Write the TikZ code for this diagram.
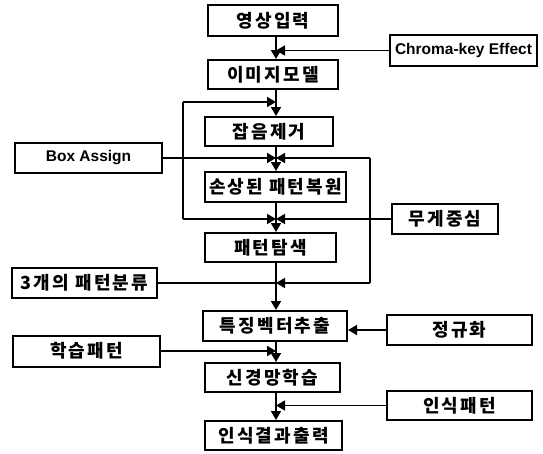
\documentclass[tikz,border=0pt]{standalone}
\usepackage{fontspec}
\newfontfamily\krfont{Noto Sans CJK KR}[LetterSpace=12]
\newfontfamily\latfont{Liberation Sans}
\usetikzlibrary{arrows.meta}
\begin{document}
\begin{tikzpicture}[x=1pt,y=-1pt,
  box/.style={draw, line width=2pt, inner sep=0pt, align=center,
    font={\krfont\bfseries\fontsize{18}{18}\selectfont}},
  latbox/.style={box, font={\latfont\bfseries\fontsize{15.5}{16}\selectfont}},
  ln/.style={line width=1.7pt},
  arr/.style={line width=1.7pt,-{Triangle[length=9pt,width=10pt]}}]
\useasboundingbox (0,0) rectangle (543,453);
\coordinate (mx) at (276,0);
% main column
\node[box, minimum width=130pt, minimum height=31pt] (in1) at (273,20.5) {영상입력};
\node[box, minimum width=130pt, minimum height=29pt] (im) at (273,74.5) {이미지모델};
\node[box, minimum width=128pt, minimum height=29pt] (noise) at (269,131.5) {잡음제거};
\node[box, minimum width=141pt, minimum height=30pt] (rest) at (275.5,187) {손상된 패턴복원};
\node[box, minimum width=131pt, minimum height=29pt] (search) at (270.5,247.5) {패턴탐색};
\node[box, minimum width=144pt, minimum height=30pt] (feat) at (275,326) {특징벡터추출};
\node[box, minimum width=135pt, minimum height=29pt] (nn) at (272.5,377.5) {신경망학습};
\node[box, minimum width=137pt, minimum height=29pt] (out) at (273.5,435.5) {인식결과출력};
% side boxes
\node[latbox, minimum width=147pt, minimum height=31pt] (chroma) at (463.5,50.5) {Chroma-key Effect};
\node[latbox, minimum width=147pt, minimum height=30pt] (ba) at (88.5,158) {Box Assign};
\node[box, minimum width=106pt, minimum height=30pt] (wc) at (445,219) {무게중심};
\node[box, minimum width=145pt, minimum height=30pt] (three) at (84.5,283) {3개의 패턴분류};
\node[box, minimum width=145pt, minimum height=30pt] (norm) at (459.5,330) {정규화};
\node[box, minimum width=147pt, minimum height=31pt] (learn) at (86.5,351) {학습패턴};
\node[box, minimum width=145pt, minimum height=29pt] (recog) at (459.5,405.5) {인식패턴};
% main flow
\draw[arr] (in1.south -| mx) -- (im.north -| mx);
\draw[arr] (im.south -| mx) -- (noise.north -| mx);
\draw[arr] (noise.south -| mx) -- (rest.north -| mx);
\draw[arr] (rest.south -| mx) -- (search.north -| mx);
\draw[arr] (search.south -| mx) -- (feat.north -| mx);
\draw[arr] (feat.south -| mx) -- (nn.north -| mx);
\draw[arr] (nn.south -| mx) -- (out.north -| mx);
% inputs
\draw[arr] (chroma.west) -- (chroma.west -| mx);
\coordinate (L1) at (183,102);
\coordinate (L2) at (183,219);
\draw[arr] (L1) -- (L1 -| mx);
\draw[ln] (L1) -- (L2);
\draw[arr] (L2) -- (L2 -| mx);
\draw[arr] (wc.west) -- (wc.west -| mx);
\draw[arr] (ba.east) -- (ba.east -| mx);
\coordinate (R1) at (370,158);
\coordinate (R2) at (370,283);
\draw[arr] (R1) -- (R1 -| mx);
\draw[ln] (R1) -- (R2);
\draw[arr] (R2) -- (R2 -| mx);
\draw[ln] (three.east) -- (three.east -| mx);
\draw[arr] (norm.west) -- (norm.west -| feat.east);
\draw[arr] (learn.east) -- (learn.east -| mx);
\draw[arr] (recog.west) -- (recog.west -| mx);
\end{tikzpicture}
\end{document}
